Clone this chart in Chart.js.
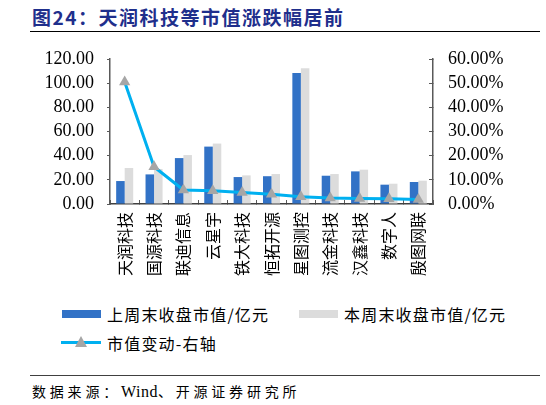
<!DOCTYPE html>
<html>
<head>
<meta charset="utf-8">
<script src="https://cdn.jsdelivr.net/npm/chart.js@4.4.1/dist/chart.umd.min.js"></script>
<style>
    html, body { margin: 0; padding: 0; background: #fff; }
    body { width: 546px; height: 405px; position: relative; overflow: hidden; font-family: "Noto Sans CJK SC", sans-serif; }
    .title { position: absolute; left: 32px; top: 3px; font-size: 19px; font-weight: bold; color: #1f2f8c; letter-spacing: 1.5px; white-space: nowrap; }
    .rule-top { position: absolute; left: 30px; width: 510px; top: 31px; height: 0; border-top: 1.5px solid #000; }
    .chart-box { position: absolute; left: 0; top: 40px; width: 546px; height: 260px; }
    .legend { position: absolute; font-size: 16px; color: #000; letter-spacing: 1.2px; white-space: nowrap; line-height: 20px; }
    .legend .swatch { position: absolute; top: 6px; width: 39px; height: 8px; }
    .legend .label { position: absolute; left: 45px; top: 0; }
    .legend .ln { position: absolute; left: 0; top: 8px; width: 40px; height: 3px; background: #00b0f0; }
    .legend .tri { position: absolute; left: 14px; top: 3px; width: 0; height: 0; border-left: 6px solid transparent; border-right: 6px solid transparent; border-bottom: 11px solid #a6a6a6; }
    .rule-bottom { position: absolute; left: 30px; width: 510px; top: 375px; height: 0; border-top: 1px solid #404040; }
    .source { position: absolute; left: 32px; top: 381px; font-size: 14px; letter-spacing: 3.8px; color: #000; white-space: nowrap; }
    .source .en { font-family: "Liberation Serif", serif; font-size: 16px; letter-spacing: 0.5px; }
</style>
</head>
<body>
<div class="title">图24：天润科技等市值涨跌幅居前</div>
<div class="rule-top"></div>
<div class="chart-box"><canvas id="marketCapChart"></canvas></div>

<div class="legend" style="left:62px; top:304px;">
    <div class="swatch" style="background:#3272c6;"></div>
    <div class="label">上周末收盘市值/亿元</div>
</div>
<div class="legend" style="left:299px; top:304px;">
    <div class="swatch" style="background:#dcdcdc;"></div>
    <div class="label">本周末收盘市值/亿元</div>
</div>
<div class="legend" style="left:61px; top:333px;">
    <div class="ln"></div>
    <div class="tri"></div>
    <div class="label" style="left:46px;">市值变动-右轴</div>
</div>

<div class="rule-bottom"></div>
<div class="source">数据来源：<span class="en">Wind</span>、开源证券研究所</div>

<script>
    var companies = ['天润科技', '国源科技', '联迪信息', '云星宇', '铁大科技', '恒拓开源', '星图测控', '流金科技', '汉鑫科技', '数字人', '殷图网联'];
    var lastWeekCap = [19.0, 24.5, 38.0, 47.5, 22.3, 23.0, 108.4, 23.4, 27.0, 16.0, 18.2];
    var thisWeekCap = [29.8, 29.0, 40.5, 50.0, 23.7, 24.8, 112.3, 24.8, 28.4, 16.8, 19.3];
    var capChangePct = [50.5, 15.4, 5.8, 5.5, 4.8, 4.0, 3.0, 2.5, 2.3, 2.2, 1.9];

    var leftTicks = [0, 20, 40, 60, 80, 100, 120];
    var rightTicks = [0, 10, 20, 30, 40, 50, 60];

    var numberFont = { family: '"Liberation Serif", serif', size: 18 };
    var axisColor = '#595959';

    // keep the tick padding from pushing the plot area down
    function fixAxis(width) {
        return function (scale) {
            scale.width = width;
            scale.paddingTop = 10;
            scale.paddingBottom = 10;
        };
    }

    new Chart(document.getElementById('marketCapChart').getContext('2d'), {
        type: 'bar',
        data: {
            labels: companies,
            datasets: [
                {
                    label: '上周末收盘市值/亿元',
                    data: lastWeekCap,
                    backgroundColor: '#3272c6',
                    yAxisID: 'y',
                    order: 1,
                    categoryPercentage: 0.58,
                    barPercentage: 1.0
                },
                {
                    label: '本周末收盘市值/亿元',
                    data: thisWeekCap,
                    backgroundColor: '#dcdcdc',
                    yAxisID: 'y',
                    order: 1,
                    categoryPercentage: 0.58,
                    barPercentage: 1.0
                },
                {
                    type: 'line',
                    label: '市值变动-右轴',
                    data: capChangePct,
                    yAxisID: 'y1',
                    order: 0,
                    borderColor: '#00b0f0',
                    borderWidth: 3,
                    tension: 0,
                    pointStyle: 'triangle',
                    pointRadius: 6.5,
                    pointBackgroundColor: '#a6a6a6',
                    pointBorderColor: '#a6a6a6',
                    pointBorderWidth: 0
                }
            ]
        },
        options: {
            responsive: true,
            maintainAspectRatio: false,
            animation: false,
            layout: { padding: { top: 19, bottom: 0, left: 0, right: 0 } },
            plugins: {
                legend: { display: false },
                tooltip: { enabled: false }
            },
            scales: {
                x: {
                    grid: { drawOnChartArea: false, drawTicks: true, tickLength: -4, color: axisColor, offset: true },
                    border: { color: '#404040', width: 1.5 },
                    ticks: {
                        autoSkip: false,
                        minRotation: 90,
                        maxRotation: 90,
                        padding: 12,
                        color: '#000',
                        font: { family: '"Noto Sans CJK SC", sans-serif', size: 16 }
                    },
                    afterFit: function (scale) { scale.height = 96; }
                },
                y: {
                    position: 'left',
                    min: 0,
                    max: 120,
                    afterBuildTicks: function (scale) {
                        scale.ticks = leftTicks.map(function (v) { return { value: v }; });
                    },
                    grid: { drawOnChartArea: false, drawTicks: true, tickLength: 3, color: axisColor },
                    border: { color: axisColor, width: 1.5 },
                    ticks: {
                        autoSkip: false,
                        padding: 13,
                        color: '#000',
                        font: numberFont,
                        callback: function (value) { return value.toFixed(2); }
                    },
                    afterFit: fixAxis(110)
                },
                y1: {
                    position: 'right',
                    min: 0,
                    max: 60,
                    afterBuildTicks: function (scale) {
                        scale.ticks = rightTicks.map(function (v) { return { value: v }; });
                    },
                    grid: { drawOnChartArea: false, drawTicks: true, tickLength: -4, color: axisColor },
                    border: { color: axisColor, width: 1.5 },
                    ticks: {
                        autoSkip: false,
                        padding: 19,
                        color: '#000',
                        font: numberFont,
                        callback: function (value) { return value.toFixed(2) + '%'; }
                    },
                    afterFit: fixAxis(113)
                }
            }
        }
    });
</script>
</body>
</html>
